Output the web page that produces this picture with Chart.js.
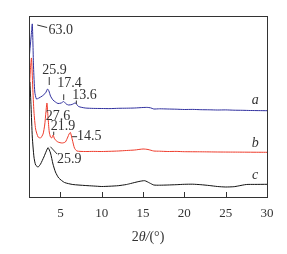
<!DOCTYPE html>
<html>
<head>
<meta charset="utf-8">
<script src="https://cdn.jsdelivr.net/npm/chart.js@4/dist/chart.umd.min.js"></script>
<style>
  body { margin: 0; background: #fff; }
</style>
</head>
<body>
<canvas id="xrd" width="287" height="254"></canvas>
<script>
// curva a (azul)
const xA = [1.2, 1.45, 1.6, 1.75, 1.9, 2.1, 2.4, 2.8, 3.2, 3.45, 3.61, 3.8, 4.1, 4.4, 4.7, 5.1, 5.4, 5.7, 6.0, 6.4, 6.81, 7.2, 8, 9, 10, 11, 12, 13, 14, 15, 15.5, 15.9, 16.3, 17, 18, 19, 20, 21, 22, 23, 24, 25, 26, 27, 28, 29, 30];
const yA = [137, 160, 173, 130, 105, 98, 99, 101, 104, 108, 106, 101, 97, 95, 93.5, 94, 95.5, 93, 92, 92.5, 94, 90.5, 89, 88.6, 88.5, 88.4, 88.7, 88.8, 89, 89.5, 89.6, 89.2, 88, 88.2, 88, 87.8, 87.5, 87.6, 87.3, 87.2, 87, 87.1, 86.8, 86.7, 86.5, 86.4, 86.3];
// curva b (vermelha)
const xB = [1.2, 1.35, 1.5, 1.65, 1.8, 2.0, 2.3, 2.6, 2.9, 3.1, 3.25, 3.37, 3.5, 3.65, 3.8, 3.95, 4.12, 4.3, 4.7, 5.2, 5.6, 5.9, 6.05, 6.21, 6.45, 6.7, 7.0, 8, 9, 10, 11, 12, 13, 14, 15, 15.6, 16.3, 17, 18, 19, 20, 22, 24, 26, 28, 30];
const yB = [95, 125, 139, 110, 85, 68, 60, 59, 63, 72, 85, 94, 80, 65, 60, 59, 62, 58, 55, 54, 55, 60, 63, 64.5, 57, 49, 46, 45.5, 45.6, 45.5, 45.7, 46, 46.5, 47, 48, 47.5, 46, 45.8, 45.5, 45.6, 45.3, 45.2, 45, 44.9, 44.8, 44.7];
// curva c (preta)
const xC = [1.2, 1.3, 1.45, 1.6, 1.8, 2.0, 2.3, 2.6, 3.0, 3.3, 3.51, 3.8, 4.1, 4.4, 4.8, 5.5, 6.5, 8, 9, 10, 11, 12, 13, 13.5, 14.5, 15.2, 15.8, 16.3, 17, 18, 19, 20, 21, 22, 23, 24, 25, 26, 26.5, 27.5, 28.5, 30];
const yC = [100, 115, 90, 60, 40, 32, 30, 33, 40, 46, 49.3, 44, 33, 25, 19, 14.5, 12.5, 11.5, 11, 10.5, 10.8, 11.3, 12.5, 13.5, 15.5, 16.3, 14, 12, 11.8, 12, 12.3, 12.7, 12.8, 12.3, 11.5, 10.5, 10, 10.3, 11, 12.5, 12.6, 12.7];

const xTicks = [5, 10, 15, 20, 25, 30];

// rótulos dos picos: texto, posição do texto (dados), alinhamento, linha guia
const peakLabels = [
    { text: '63.0', x: 3.55, y: 167, align: 'left', line: [2.2, 172, 3.4, 169.5] },
    { text: '25.9', x: 4.3, y: 127, align: 'center', line: [3.65, 120, 3.65, 112] },
    { text: '17.4', x: 6.11, y: 113.7, align: 'center', line: [5.4, 102.7, 5.4, 97] },
    { text: '13.6', x: 7.93, y: 102, align: 'center', line: [6.93, 96.5, 6.93, 93] },
    { text: '27.6', x: 4.7, y: 80.3, align: 'center', line: null },
    { text: '21.9', x: 5.3, y: 70.3, align: 'center', line: [4.19, 65.3, 4.19, 62] },
    { text: '14.5', x: 7.02, y: 61, align: 'left', line: [6.41, 60.3, 7.02, 60.3] },
    { text: '25.9', x: 4.6, y: 37.7, align: 'left', line: [3.79, 50.3, 4.6, 43] }
];
const curveNames = ['a', 'b', 'c'];
const curveNamePos = [[28.57, 96.3], [28.57, 53.7], [28.57, 22]];

function toPoints(xs, ys) {
    return xs.map((x, i) => ({ x: x, y: ys[i] }));
}

const serif = '"Liberation Serif", "DejaVu Serif", serif';

// desenha moldura, marcas internas, rótulos e título do eixo
const decorPlugin = {
    id: 'decor',
    afterDraw(chart) {
        const ctx = chart.ctx;
        const area = chart.chartArea;
        const sx = chart.scales.x;
        const sy = chart.scales.y;
        ctx.save();
        ctx.strokeStyle = '#333';
        ctx.lineWidth = 1;
        ctx.strokeRect(Math.round(area.left) + 0.5, Math.round(area.top) + 0.5,
            Math.round(area.right - area.left), Math.round(area.bottom - area.top));

        // marcas para dentro
        xTicks.forEach(t => {
            const px = Math.round(sx.getPixelForValue(t)) + 0.5;
            if (t === 30) return;
            ctx.beginPath();
            ctx.moveTo(px, area.bottom);
            ctx.lineTo(px, area.bottom - 5);
            ctx.stroke();
        });

        // rótulos dos picos
        ctx.fillStyle = '#333';
        ctx.font = '14px ' + serif;
        ctx.textBaseline = 'middle';
        peakLabels.forEach(l => {
            ctx.textAlign = l.align;
            ctx.fillText(l.text, sx.getPixelForValue(l.x), sy.getPixelForValue(l.y));
            if (l.line) {
                ctx.beginPath();
                ctx.moveTo(sx.getPixelForValue(l.line[0]), sy.getPixelForValue(l.line[1]));
                ctx.lineTo(sx.getPixelForValue(l.line[2]), sy.getPixelForValue(l.line[3]));
                ctx.stroke();
            }
        });

        // nomes das curvas
        ctx.font = 'italic 14px ' + serif;
        ctx.textAlign = 'center';
        curveNames.forEach((n, i) => {
            ctx.fillText(n, sx.getPixelForValue(curveNamePos[i][0]), sy.getPixelForValue(curveNamePos[i][1]));
        });

        // título do eixo x: 2θ/(°)
        const parts = [['2', ''], ['θ/', 'italic '], ['(°)', '']];
        let total = 0;
        parts.forEach(p => { ctx.font = p[1] + '14px ' + serif; total += ctx.measureText(p[0]).width; });
        let cx = (area.left + area.right) / 2 - total / 2;
        ctx.textAlign = 'left';
        parts.forEach(p => {
            ctx.font = p[1] + '14px ' + serif;
            ctx.fillText(p[0], cx, 237);
            cx += ctx.measureText(p[0]).width;
        });
        ctx.restore();
    }
};

const ctxXrd = document.getElementById('xrd').getContext('2d');
const chartXrd = new Chart(ctxXrd, {
    type: 'line',
    data: {
        datasets: [
            { data: toPoints(xA, yA), borderColor: '#2f2f9e', borderWidth: 1 },
            { data: toPoints(xB, yB), borderColor: '#ee3b2b', borderWidth: 1 },
            { data: toPoints(xC, yC), borderColor: '#111111', borderWidth: 1 }
        ]
    },
    options: {
        responsive: false,
        animation: false,
        elements: { point: { radius: 0 }, line: { tension: 0.2 } },
        layout: { padding: { left: 29, right: 20, top: 16, bottom: 0 } },
        plugins: {
            legend: { display: false },
            tooltip: { enabled: false }
        },
        scales: {
            x: {
                type: 'linear',
                min: 1.2,
                max: 30,
                afterBuildTicks: (scale) => { scale.ticks = xTicks.map(v => ({ value: v })); },
                afterFit: (scale) => { scale.height = 57; },
                grid: { display: false, drawTicks: false },
                border: { display: false },
                ticks: {
                    padding: 9,
                    maxRotation: 0,
                    color: '#333',
                    font: { family: serif, size: 13 }
                }
            },
            y: {
                display: false,
                min: 0,
                max: 181
            }
        }
    },
    plugins: [decorPlugin]
});
</script>
</body>
</html>
